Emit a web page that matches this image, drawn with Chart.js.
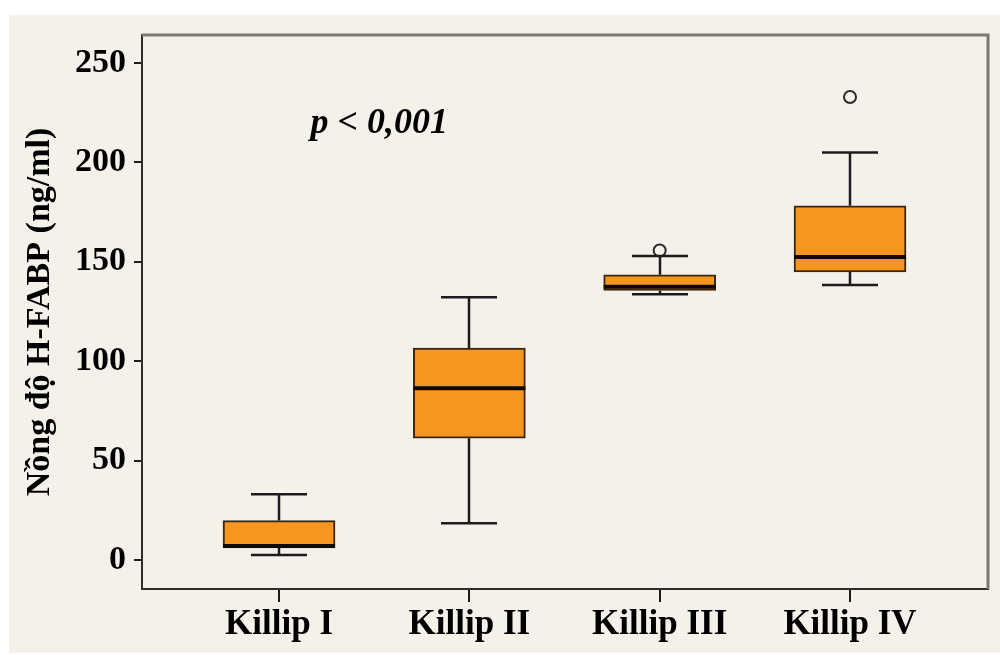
<!DOCTYPE html>
<html lang="vi">
  <head>
    <meta charset="UTF-8" />
    <title>H-FABP theo Killip</title>
    <script src="https://cdn.jsdelivr.net/npm/chart.js@4.4.1/dist/chart.umd.min.js"></script>
    <style>
      body {
        margin: 0;
        background-color: #ffffff;
      }

      #chart-container {
        width: 1000px;
        height: 655px;
      }
    </style>
  </head>
  <body>
    <div id="chart-container">
      <canvas id="boxChart" width="1000" height="655"></canvas>
    </div>

    <script>
      // values
      const categories = ["Killip I", "Killip II", "Killip III", "Killip IV"];
      const whiskerLow = [2.5, 18.5, 133.6, 138.3];
      const q1 = [6, 61.2, 135.5, 144.9];
      const median = [7, 86.4, 137.4, 152.3];
      const q3 = [19.8, 106.5, 143.4, 178.1];
      const whiskerHigh = [33, 132.1, 152.9, 204.9];
      const outlierGroup = [2, 3];
      const outlierValue = [155.6, 232.8];
      const yTicks = [0, 50, 100, 150, 200, 250];

      const serif = "'Liberation Serif', 'Times New Roman', serif";
      const ink = "#1c1c1c";

      const boxData = categories.map((c, i) => ({ x: i, y: [q1[i], q3[i]] }));
      const outlierData = outlierGroup.map((g, i) => ({ x: g, y: outlierValue[i] }));

      // background + frame + whiskers + medians + p-value text
      const boxPlotExtras = {
        id: "boxPlotExtras",
        beforeDraw(chart) {
          const ctx = chart.ctx;
          ctx.save();
          ctx.fillStyle = "#ffffff";
          ctx.fillRect(0, 0, chart.width, chart.height);
          ctx.fillStyle = "#f4f1ea";
          ctx.fillRect(9, 15, chart.width - 9, chart.height - 17);
          ctx.restore();
        },
        beforeDatasetsDraw(chart) {
          const ctx = chart.ctx;
          const xs = chart.scales.x;
          const ys = chart.scales.y;
          ctx.save();
          ctx.strokeStyle = ink;
          ctx.lineWidth = 2.5;
          categories.forEach((c, i) => {
            const x = Math.round(xs.getPixelForValue(i));
            ctx.beginPath();
            ctx.moveTo(x, ys.getPixelForValue(whiskerHigh[i]));
            ctx.lineTo(x, ys.getPixelForValue(q3[i]));
            ctx.moveTo(x, ys.getPixelForValue(q1[i]));
            ctx.lineTo(x, ys.getPixelForValue(whiskerLow[i]));
            ctx.stroke();
          });
          ctx.restore();
        },
        afterDatasetsDraw(chart) {
          const ctx = chart.ctx;
          const xs = chart.scales.x;
          const ys = chart.scales.y;
          const area = chart.chartArea;
          const half = 56;
          const cap = 28;
          ctx.save();
          ctx.strokeStyle = ink;
          ctx.lineWidth = 2.5;
          categories.forEach((c, i) => {
            const x = Math.round(xs.getPixelForValue(i));
            [whiskerHigh[i], whiskerLow[i]].forEach((v) => {
              const y = ys.getPixelForValue(v);
              ctx.beginPath();
              ctx.moveTo(x - cap, y);
              ctx.lineTo(x + cap, y);
              ctx.stroke();
            });
          });
          ctx.strokeStyle = "#0d0a08";
          ctx.lineWidth = 4;
          categories.forEach((c, i) => {
            const x = xs.getPixelForValue(i);
            const y = ys.getPixelForValue(median[i]);
            ctx.beginPath();
            ctx.moveTo(x - half, y);
            ctx.lineTo(x + half, y);
            ctx.stroke();
          });

          // top and right frame
          ctx.strokeStyle = "#7b7a74";
          ctx.lineWidth = 3;
          ctx.beginPath();
          ctx.moveTo(area.left, area.top);
          ctx.lineTo(area.right, area.top);
          ctx.lineTo(area.right, area.bottom);
          ctx.stroke();

          ctx.fillStyle = "#000000";
          ctx.font = "italic bold 36px " + serif;
          ctx.textAlign = "left";
          ctx.textBaseline = "alphabetic";
          ctx.fillText("p < 0,001", xs.getPixelForValue(0.165), ys.getPixelForValue(214.5));
          ctx.restore();
        },
      };

      const ctx = document.getElementById("boxChart").getContext("2d");
      new Chart(ctx, {
        type: "bar",
        data: {
          datasets: [
            {
              label: "H-FABP",
              data: boxData,
              backgroundColor: "#f7961f",
              borderColor: "#3b2612",
              borderWidth: 2,
              borderSkipped: false,
              barThickness: 112,
            },
            {
              type: "scatter",
              label: "outliers",
              data: outlierData,
              pointStyle: "circle",
              pointRadius: 6,
              borderWidth: 2,
              borderColor: "#2b2b2b",
              backgroundColor: "rgba(0,0,0,0)",
            },
          ],
        },
        options: {
          responsive: false,
          animation: false,
          layout: {
            padding: { left: 0, top: 35, right: 12, bottom: 0 },
          },
          plugins: {
            legend: { display: false },
            tooltip: { enabled: false },
          },
          scales: {
            x: {
              type: "linear",
              min: -0.72,
              max: 3.725,
              offset: false,
              afterFit: (scale) => {
                scale.height = 66;
              },
              afterBuildTicks: (scale) => {
                scale.ticks = categories.map((c, i) => ({ value: i }));
              },
              grid: {
                display: true,
                offset: false,
                drawOnChartArea: false,
                drawTicks: true,
                tickLength: 13,
                color: ink,
                lineWidth: 2,
              },
              border: { display: true, color: "#2e2e2e", width: 2 },
              ticks: {
                color: "#000000",
                padding: 2,
                maxRotation: 0,
                font: { family: serif, size: 35, weight: "bold" },
                callback: (v) => categories[v],
              },
            },
            y: {
              min: -14.6,
              max: 264,
              afterFit: (scale) => {
                scale.width = 142;
              },
              afterBuildTicks: (scale) => {
                scale.ticks = yTicks.map((v) => ({ value: v }));
              },
              grid: {
                display: true,
                drawOnChartArea: false,
                drawTicks: true,
                tickLength: 8,
                color: ink,
                lineWidth: 2,
              },
              border: { display: true, color: "#2e2e2e", width: 2 },
              ticks: {
                color: "#000000",
                padding: 8,
                font: { family: serif, size: 34, weight: "bold" },
              },
              title: {
                display: true,
                text: "Nồng độ H-FABP (ng/ml)",
                color: "#000000",
                font: { family: serif, size: 34, weight: "bold" },
                padding: { top: 20, bottom: 0 },
              },
            },
          },
        },
        plugins: [boxPlotExtras],
      });
    </script>
  </body>
</html>
